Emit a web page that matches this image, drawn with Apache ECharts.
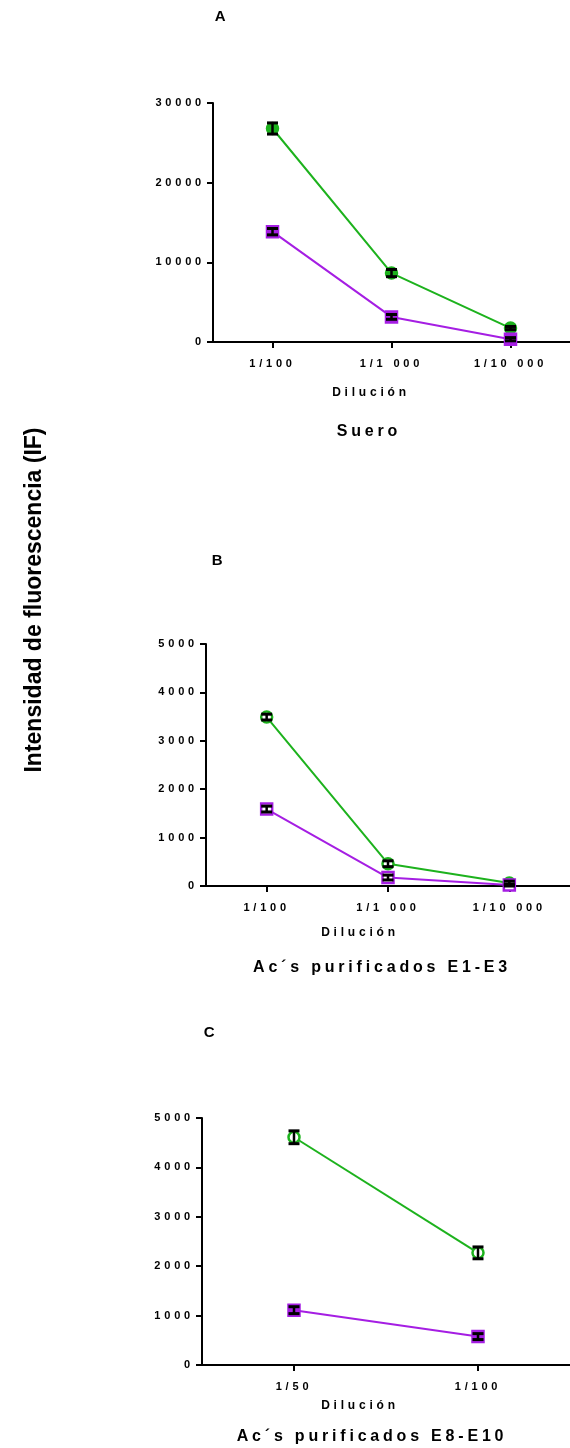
<!DOCTYPE html>
<html>
<head>
<meta charset="utf-8">
<script src="https://cdn.jsdelivr.net/npm/echarts@6/dist/echarts.min.js"></script>
<style>
html,body{margin:0;padding:0;background:#fff;}
#c{width:570px;height:1448px;}
</style>
</head>
<body>
<div id="c"></div>
<script>
// ---- data ----
const catsA = ['1/100', '1/1 000', '1/10 000'];
const greenA = [26800, 8650, 1750];
const greenErrA = [700, 450, 200];
const purpleA = [13850, 3150, 350];
const purpleErrA = [400, 300, 200];

const catsB = ['1/100', '1/1 000', '1/10 000'];
const greenB = [3490, 460, 60];
const greenErrB = [60, 60, 40];
const purpleB = [1590, 175, 20];
const purpleErrB = [60, 50, 20];

const catsC = ['1/50', '1/100'];
const greenC = [4610, 2270];
const greenErrC = [130, 120];
const purpleC = [1110, 575];
const purpleErrC = [70, 60];

const yTicksA = {min: 0, max: 30000, interval: 10000};
const yTicksBC = {min: 0, max: 5000, interval: 1000};

const GREEN = '#1DB21D';
const PURPLE = '#A51EE3';
const FONT = '"Liberation Sans", Arial, sans-serif';

function errData(vals, errs) { return vals.map((v, i) => [i, v, errs[i]]); }

function errRender(params, api) {
  const x = api.value(0), v = api.value(1), e = api.value(2);
  const top = api.coord([x, v + e]);
  const bot = api.coord([x, v - e]);
  const hw = 5.5;
  const st = {stroke: '#000', lineWidth: 2.5};
  const cs = {stroke: '#000', lineWidth: 3};
  return {type: 'group', children: [
    {type: 'line', shape: {x1: top[0], y1: top[1], x2: bot[0], y2: bot[1]}, style: st},
    {type: 'line', shape: {x1: top[0] - hw, y1: top[1], x2: top[0] + hw, y2: top[1]}, style: cs},
    {type: 'line', shape: {x1: bot[0] - hw, y1: bot[1], x2: bot[0] + hw, y2: bot[1]}, style: cs}
  ]};
}

const grids = [
  {left: 213, top: 103, width: 358, height: 239},
  {left: 206, top: 644, width: 365, height: 242},
  {left: 202, top: 1118, width: 372, height: 247}
];
const cats = [catsA, catsB, catsC];
const yT = [yTicksA, yTicksBC, yTicksBC];

const axisLine = {show: true, lineStyle: {color: '#000', width: 2}};
const labelStyle = {color: '#000', fontWeight: 'bold', fontSize: 11, fontFamily: FONT};

const xAxis = cats.map((c, i) => ({
  type: 'category', gridIndex: i, data: c, boundaryGap: true,
  axisLine: axisLine,
  axisTick: {show: true, alignWithLabel: true, length: 6, lineStyle: {color: '#000', width: 2}},
  axisLabel: Object.assign({margin: 16, interval: 0}, labelStyle),
  splitLine: {show: false}
}));
const yAxis = yT.map((t, i) => ({
  type: 'value', gridIndex: i, min: t.min, max: t.max, interval: t.interval,
  axisLine: axisLine,
  axisTick: {show: true, length: 6, lineStyle: {color: '#000', width: 2}},
  axisLabel: Object.assign({margin: 8, formatter: v => String(v)}, labelStyle),
  splitLine: {show: false}
}));

function lineSeries(i, data, color, symbol, hollow) {
  return {
    type: 'line', xAxisIndex: i, yAxisIndex: i, data: data,
    symbol: symbol, symbolSize: 11, showSymbol: true,
    lineStyle: {color: color, width: 2},
    itemStyle: {color: hollow ? '#fff' : color, borderColor: color, borderWidth: 2.5, opacity: 1},
    z: 2
  };
}
function errSeries(i, vals, errs) {
  return {type: 'custom', xAxisIndex: i, yAxisIndex: i, data: errData(vals, errs),
    renderItem: errRender, z: 5};
}

const series = [
  lineSeries(0, greenA, GREEN, 'circle', false),
  lineSeries(0, purpleA, PURPLE, 'rect', false),
  errSeries(0, greenA, greenErrA), errSeries(0, purpleA, purpleErrA),
  lineSeries(1, greenB, GREEN, 'circle', true),
  lineSeries(1, purpleB, PURPLE, 'rect', true),
  errSeries(1, greenB, greenErrB), errSeries(1, purpleB, purpleErrB),
  lineSeries(2, greenC, GREEN, 'circle', true),
  lineSeries(2, purpleC, PURPLE, 'rect', false),
  errSeries(2, greenC, greenErrC), errSeries(2, purpleC, purpleErrC)
];

function txt(text, x, y, size, zlevel, rot) {
  return {type: 'text', x: x, y: y, rotation: rot || 0, zlevel: zlevel || 0, silent: true,
    style: {text: text, fill: '#000', font: 'bold ' + size + 'px ' + FONT,
      textAlign: 'center', textVerticalAlign: 'middle', align: 'center', verticalAlign: 'middle'}};
}

const graphics = [
  txt('A', 222, 17, 15),
  txt('Dilución', 371, 393, 12),
  txt('Suero', 369, 432, 16),
  txt('B', 219, 561, 15),
  txt('Dilución', 360, 933, 12),
  txt('Ac´s purificados E1-E3', 382, 968, 16),
  txt('C', 211, 1033, 15),
  txt('Dilución', 360, 1406, 12),
  txt('Ac´s purificados E8-E10', 372, 1437, 16),
  txt('Intensidad de fluorescencia (IF)', 35, 600, 23, 1, Math.PI / 2)
];

const chart = echarts.init(document.getElementById('c'), null, {renderer: 'canvas'});
chart.setOption({
  animation: false,
  backgroundColor: '#fff',
  grid: grids,
  xAxis: xAxis,
  yAxis: yAxis,
  series: series,
  graphic: {elements: graphics}
});

// GraphPad-style letter spacing on the main layer (the rotated title lives on zlevel 1)
try {
  const painter = chart.getZr().painter;
  const layer = painter.getLayer(0);
  if (layer && layer.ctx && 'letterSpacing' in layer.ctx) {
    layer.ctx.letterSpacing = '3.8px';
    painter.refresh(true);
  }
} catch (e) {}
</script>
</body>
</html>
